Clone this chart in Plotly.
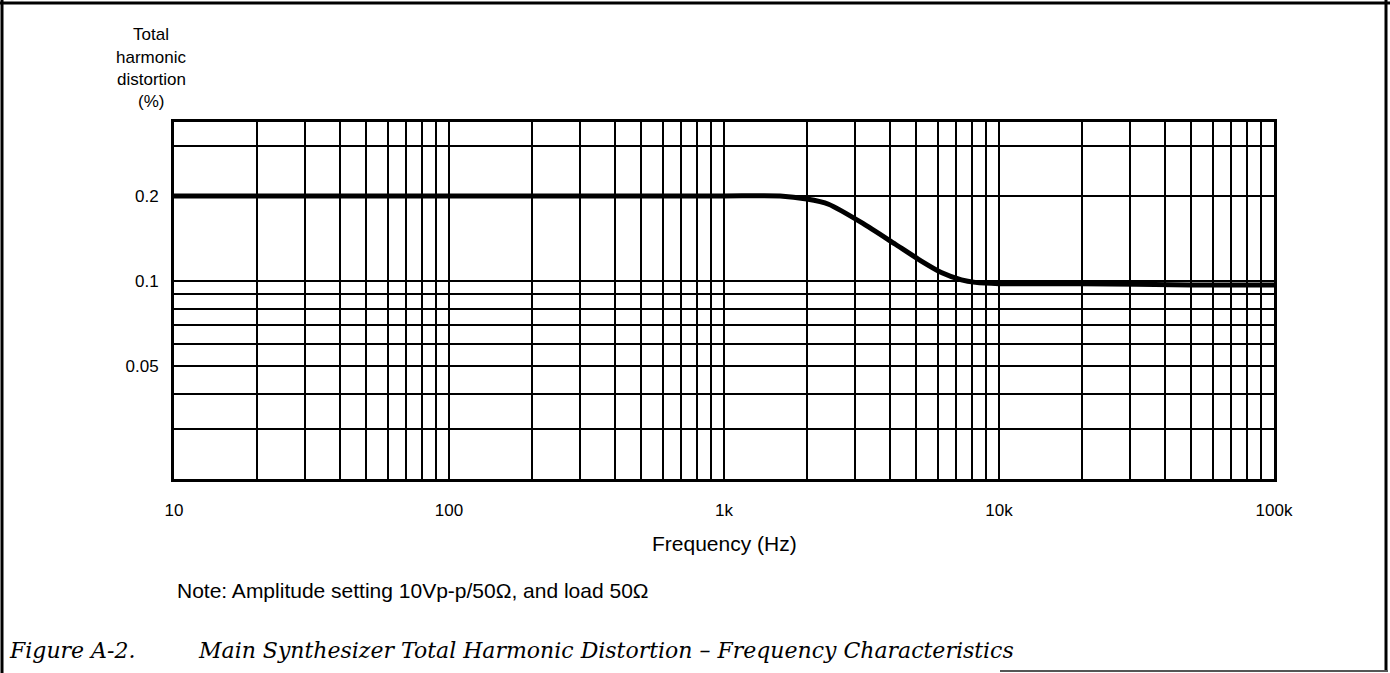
import plotly.graph_objects as go
import math

# ---- data ----
freq_hz = [10, 100, 1000, 1600, 2000, 2400, 3200, 4200, 5200, 6200, 7300, 8200, 10000, 20000, 50000, 100000]
thd_pct = [0.2, 0.2, 0.2, 0.2, 0.195, 0.187, 0.16, 0.135, 0.118, 0.107, 0.101, 0.099, 0.098, 0.098, 0.097, 0.097]

x_decades = [10, 100, 1000, 10000, 100000]
x_decade_labels = ["10", "100", "1k", "10k", "100k"]
y_grid_values = [0.02, 0.03, 0.04, 0.05, 0.06, 0.07, 0.08, 0.09, 0.1, 0.2, 0.3]
y_grid_labels = ["", "", "", "0.05", "", "", "", "", "0.1", "0.2", ""]

# x grid: 1..9 within each decade
x_tickvals, x_ticktext = [], []
for d, lab in zip(x_decades, x_decade_labels):
    x_tickvals.append(d)
    x_ticktext.append(lab)
    if d < x_decades[-1]:
        for m in range(2, 10):
            x_tickvals.append(d * m)
            x_ticktext.append("")

W, H = 1390, 673
L, R, T, B = 174, 1274, 122, 479

fig = go.Figure()
fig.add_trace(go.Scatter(
    x=freq_hz, y=thd_pct, mode="lines",
    line=dict(color="black", width=5, shape="spline", smoothing=0.6),
    showlegend=False, hoverinfo="skip",
))

tick_font = dict(family="Liberation Sans, Arial, sans-serif", size=17, color="black")
big_font = dict(family="Liberation Sans, Arial, sans-serif", size=21, color="black")

fig.update_layout(
    width=W, height=H,
    margin=dict(l=L, r=W - R, t=T, b=H - B, pad=0),
    paper_bgcolor="white", plot_bgcolor="white",
    font=tick_font,
    xaxis=dict(
        type="log", range=[1, 5],
        tickmode="array", tickvals=x_tickvals, ticktext=x_ticktext,
        showgrid=True, gridcolor="black", gridwidth=2,
        showline=True, linecolor="black", linewidth=3, mirror=True,
        ticks="", ticklabelstandoff=14, zeroline=False,
        tickfont=tick_font,
    ),
    yaxis=dict(
        type="log", range=[math.log10(0.02), math.log10(0.365)],
        tickmode="array", tickvals=y_grid_values, ticktext=y_grid_labels,
        showgrid=True, gridcolor="black", gridwidth=2,
        showline=True, linecolor="black", linewidth=3, mirror=True,
        ticks="", ticklabelstandoff=9, zeroline=False,
        tickfont=tick_font,
    ),
)

def px(xp):
    return (xp - L) / (R - L)

def py(yp):
    return (B - yp) / (B - T)

# y-axis title (stacked)
for txt, yy in [("Total", 35), ("harmonic", 57), ("distortion", 79), ("(%)", 101)]:
    fig.add_annotation(text=txt, xref="paper", yref="paper", x=px(151), y=py(yy),
                       showarrow=False, xanchor="center", yanchor="middle", font=tick_font)

fig.add_annotation(text="Frequency (Hz)", xref="paper", yref="paper", x=px(724), y=py(543),
                   showarrow=False, xanchor="center", yanchor="middle", font=big_font)
fig.add_annotation(text="Note: Amplitude setting 10Vp-p/50\u03a9, and load 50\u03a9",
                   xref="paper", yref="paper", x=px(175), y=py(590),
                   showarrow=False, xanchor="left", yanchor="middle", font=big_font)

cap_font = dict(family="DejaVu Serif, Liberation Serif, serif", size=22, color="black")
fig.add_annotation(text="<i>Figure A-2.</i>", xref="paper", yref="paper", x=px(7), y=py(650),
                   showarrow=False, xanchor="left", yanchor="middle", font=cap_font)
fig.add_annotation(text="<i>Main Synthesizer Total Harmonic Distortion \u2013 Frequency Characteristics</i>",
                   xref="paper", yref="paper", x=px(196), y=py(650),
                   showarrow=False, xanchor="left", yanchor="middle", font=cap_font)

# page frame
frame = [
    (0, 3, W, 3, "black", 3),
    (2, 0, 2, H, "black", 3),
    (1386, 0, 1386, 671, "black", 3),
    (1000, 671, 1388, 671, "#555555", 2),
]
for x0, y0, x1, y1, c, w in frame:
    fig.add_shape(type="line", xref="paper", yref="paper",
                  x0=px(x0), y0=py(y0), x1=px(x1), y1=py(y1),
                  line=dict(color=c, width=w), layer="above")

fig.write_html("out.html", config={"displayModeBar": False},
               post_script="document.body.style.margin='0';")
